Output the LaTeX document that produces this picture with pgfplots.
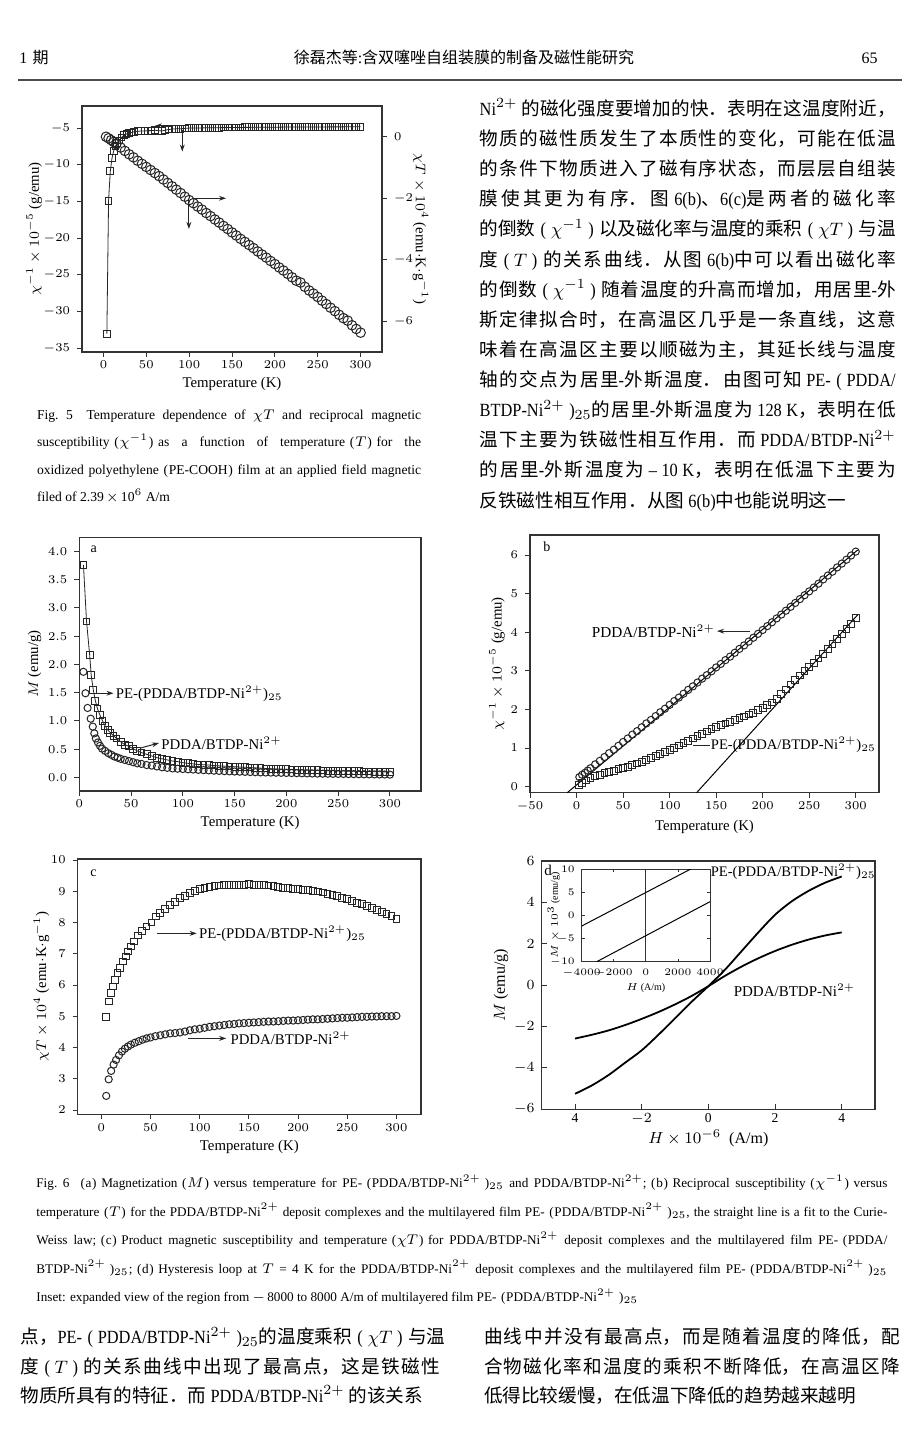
\documentclass[border=0pt]{standalone}
\usepackage{fontspec}
\setmainfont{Liberation Serif}
\newfontfamily\cjk{Noto Sans CJK SC}
\newfontfamily\brm[FakeStretch=0.88]{Liberation Serif}
\usepackage{pgfplots}
\pgfplotsset{compat=1.18}
\usetikzlibrary{arrows.meta}

\newcommand\R[1]{{\brm #1}}
\newcommand\lp{\kern0.35em(\kern0.05em}
\newcommand\rp{\kern0.05em)\kern0.35em}
\newcommand\rs{\kern0.3em)}
\newcommand\zl{{\brm\kern0.3em(\kern0.25em}}
\newcommand\zr{{\brm\kern0.25em)\kern0.3em}}
\newcommand\zrs{{\brm\kern0.25em)}}
\newcommand\zhpar{\XeTeXlinebreaklocale "zh"\XeTeXlinebreakskip=0pt plus 4pt minus 0.4pt
  \parfillskip=0pt\tolerance=10000\hbadness=10000\parindent=0pt}

\pgfplotsset{
  panel/.style={scale only axis, anchor=north west, clip=false,
    axis line style={black!80, line width=0.55pt},
    tick style={black!80, line width=0.45pt}, major tick length=2.5pt,
    tick align=outside, xtick pos=bottom, ytick pos=left,
    tick label style={font=\fontsize{6.3}{7}\selectfont},
    label style={font=\fontsize{7.4}{9}\selectfont},
    xticklabel shift=-1.5pt, xlabel shift=-2.5pt},
  sq/.style={mark=square, mark size=1.7pt, mark options={line width=0.5pt, draw=black!85, fill=none}},
  ci/.style={mark=o, mark size=1.8pt, mark options={line width=0.5pt, draw=black!85}},
}
\tikzset{
  arr/.style={black!85, line width=0.5pt, -{Stealth[length=3.5pt,width=2.4pt]}},
  ann/.style={font=\fontsize{7.4}{9}\selectfont, inner sep=0pt},
}

\begin{document}
\begin{tikzpicture}
\fill[white] (0,0) rectangle (460pt,-723.5pt);
\path[use as bounding box] (0,0) rectangle (460pt,-723.5pt);

% running head
\node[anchor=base west, inner sep=0] at (9.5pt,-31.5pt) {\fontsize{8}{9}\selectfont 1\,\,{\cjk 期}};
\node[anchor=base, inner sep=0] at (232pt,-31.5pt) {\fontsize{8}{9}\selectfont\cjk 徐磊杰等{\rmfamily:}含双噻唑自组装膜的制备及磁性能研究};
\node[anchor=base east, inner sep=0] at (439pt,-31.5pt) {\fontsize{8}{9}\selectfont 65};
\draw[line width=1pt, black!70] (9pt,-40pt) -- (451pt,-40pt);

% ---------------- Fig. 5 ----------------
\begin{axis}[panel, at={(41pt,-53pt)}, width=150pt, height=123pt,
  xmin=-25, xmax=325, ymin=-35.5, ymax=-2,
  xtick={0,50,...,300}, ytick={-35,-30,...,-5}, ylabel shift=-6pt,
  xlabel={Temperature (K)}, ylabel={$\chi^{-1}\times10^{-5}$ (g/emu)}]
\addplot[sq, black!85, line width=0.4pt] coordinates {
 (4,-33.0) (6,-14.9) (8,-10.9) (10,-9.1) (12,-8.1) (14,-7.5) (16,-7.0) (18,-6.7)
 (21,-6.3) (24,-6.0) (27,-5.8) (30,-5.7) (33,-5.6) (36,-5.5) (40,-5.45) (44,-5.4)
 (48,-5.4) (52,-5.35) (56,-5.35) (60,-5.3) (64,-5.35) (68,-5.4) (72,-5.3) (76,-5.2)
 (80,-5.15) (85,-5.1) (90,-5.1) (95,-5.05) (100,-5.0) (105,-5.0) (110,-5.0) (115,-4.98)
 (120,-4.97) (125,-4.96) (130,-4.95) (135,-4.95) (140,-4.94) (145,-4.93) (150,-4.93)
 (155,-4.92) (160,-4.92) (165,-4.91) (170,-4.91) (175,-4.90) (180,-4.90) (185,-4.89)
 (190,-4.89) (195,-4.88) (200,-4.88) (205,-4.88) (210,-4.87) (215,-4.87) (220,-4.87)
 (225,-4.86) (230,-4.86) (235,-4.86) (240,-4.86) (245,-4.85) (250,-4.85) (255,-4.85)
 (260,-4.85) (265,-4.84) (270,-4.84) (275,-4.84) (280,-4.84) (285,-4.83) (290,-4.83)
 (295,-4.83) (300,-4.83)};
\draw[arr] (axis cs:75,-4.7) -- (axis cs:60,-4.7);
\draw[arr] (axis cs:92,-5.3) -- (axis cs:92,-8.2);
\end{axis}
\begin{axis}[panel, at={(41pt,-53pt)}, width=150pt, height=123pt,
  xmin=-25, xmax=325, ymin=-7, ymax=1,
  axis x line=none, axis y line*=right, ytick pos=right, ytick={-6,-4,-2,0},
  ylabel shift=-7pt,
  ylabel={$\chi T\times10^{4}$ (emu$\cdot$K$\cdot$g$^{-1}$)}, ylabel style={rotate=180}]
\addplot[ci, only marks, mark size=2.4pt] coordinates {
 (3,0.00) (6,-0.05) (9,-0.11) (12,-0.17) (15,-0.24) (20,-0.35) (25,-0.46) (30,-0.57)
 (35,-0.67) (40,-0.78) (45,-0.88) (50,-0.98) (55,-1.08) (60,-1.18) (65,-1.28) (70,-1.39)
 (75,-1.50) (80,-1.61) (85,-1.72) (90,-1.83) (95,-1.95) (100,-2.06) (105,-2.16) (110,-2.27)
 (115,-2.37) (120,-2.48) (125,-2.58) (130,-2.69) (135,-2.79) (140,-2.90) (145,-3.00)
 (150,-3.11) (155,-3.21) (160,-3.32) (165,-3.42) (170,-3.52) (175,-3.62) (180,-3.73)
 (185,-3.83) (190,-3.93) (195,-4.04) (200,-4.14) (205,-4.25) (210,-4.35) (215,-4.46)
 (220,-4.57) (225,-4.68) (230,-4.74) (235,-4.88) (240,-5.00) (245,-5.10) (250,-5.21)
 (255,-5.33) (260,-5.44) (265,-5.56) (270,-5.67) (275,-5.79) (280,-5.90) (285,-5.98)
 (290,-6.13) (295,-6.25) (300,-6.37)};
\draw[arr] (axis cs:105,-2.0) -- (axis cs:143,-2.0);
\draw[arr] (axis cs:99.7,-2.05) -- (axis cs:99.7,-3.0);
\end{axis}

\node[anchor=base west, inner sep=0pt, text width=192pt, align=justify,
  font=\fontsize{6.8}{13.65}\selectfont] at (18.35pt,-209.75pt)
 {\parindent=0pt\tolerance=10000
  Fig.\ 5\quad Temperature dependence of $\chi T$ and reciprocal magnetic\linebreak
  susceptibility\lp$\chi^{-1}$\rp as a function of temperature\lp$T$\rp for the\linebreak
  oxidized polyethylene\lp PE-COOH\rp film at an applied field magnetic\linebreak
  filed of 2.39\,$\times$\,10$^{6}$ A/m};

% right column text
\node[anchor=base west, inner sep=0pt, text width=208pt, align=justify,
  font=\cjk\fontsize{9.3}{15.07}\selectfont] at (239.65pt,-57.65pt)
 {\zhpar
 \R{Ni$^{2+}$} 的磁化强度要增加的快．表明在这温度附近，\linebreak
 物质的磁性质发生了本质性的变化，可能在低温\linebreak
 的条件下物质进入了磁有序状态，而层层自组装\linebreak
 膜使其更为有序．图 \R{6(b)}、\R{6(c)}是两者的磁化率\linebreak
 的倒数\zl$\chi^{-1}$\zr 以及磁化率与温度的乘积\zl$\chi T$\zr 与温\linebreak
 度\zl$T$\zr 的关系曲线．从图 \R{6(b)}中可以看出磁化率\linebreak
 的倒数\zl$\chi^{-1}$\zr 随着温度的升高而增加，用居里\R{-}外\linebreak
 斯定律拟合时，在高温区几乎是一条直线，这意\linebreak
 味着在高温区主要以顺磁为主，其延长线与温度\linebreak
 轴的交点为居里\R{-}外斯温度．由图可知 \R{PE-}\zl\R{PDDA/}\linebreak
 \R{BTDP-Ni$^{2+}$}\zrs$_{25}$的居里\R{-}外斯温度为 \R{128 K}，表明在低\linebreak
 温下主要为铁磁性相互作用．而 \R{PDDA/BTDP-Ni$^{2+}$}\linebreak
 的居里\R{-}外斯温度为 \R{– 10 K}，表明在低温下主要为\linebreak
 反铁磁性相互作用．从图 \R{6(b)}中也能说明这一};

% ---------------- Fig. 6a ----------------
\begin{axis}[panel, at={(39.65pt,-268.65pt)}, width=170.85pt, height=126.85pt,
  xmin=0, xmax=330, ymin=-0.24, ymax=4.25,
  xtick={0,50,...,300}, ytick={0,0.5,...,4}, ylabel shift=-3.5pt,
  yticklabel style={/pgf/number format/.cd, fixed, fixed zerofill, precision=1},
  xlabel={Temperature (K)}, ylabel={$M$ (emu/g)}]
\addplot[sq, black!85, line width=0.4pt] coordinates {
 (4,3.76) (7,2.76) (10,2.17) (11.5,1.81) (13.5,1.55) (15.5,1.36) (17.5,1.22) (20,1.10)
 (22.5,1.00) (25,0.91) (27.5,0.84) (30,0.79) (33,0.74) (36,0.69) (40,0.63) (44,0.58)
 (48,0.55) (52,0.51) (56,0.47) (60,0.44) (65,0.41) (70,0.38) (75,0.35) (80,0.33)
 (85,0.31) (90,0.29) (95,0.28) (100,0.26) (105,0.25) (110,0.24) (115,0.23) (120,0.225)
 (125,0.22) (130,0.21) (135,0.205) (140,0.20) (145,0.195) (150,0.19) (155,0.185)
 (160,0.18) (165,0.175) (170,0.17) (175,0.165) (180,0.16) (185,0.155) (190,0.15)
 (195,0.147) (200,0.144) (205,0.141) (210,0.138) (215,0.135) (220,0.132) (225,0.129)
 (230,0.126) (235,0.123) (240,0.12) (245,0.118) (250,0.116) (255,0.114) (260,0.112)
 (265,0.11) (270,0.108) (275,0.106) (280,0.104) (285,0.102) (290,0.10) (295,0.098)
 (300,0.096)};
\addplot[ci, only marks] coordinates {
 (4,1.87) (6,1.49) (8,1.23) (11,1.04) (13,0.90) (14.5,0.78) (16,0.69) (18,0.62)
 (20,0.56) (22,0.51) (25,0.47) (28,0.43) (31,0.40) (34,0.37) (37,0.35) (40,0.33)
 (44,0.31) (48,0.29) (52,0.27) (56,0.25) (60,0.24) (65,0.22) (70,0.21) (75,0.195)
 (80,0.18) (85,0.17) (90,0.16) (95,0.155) (100,0.15) (105,0.145) (110,0.14) (115,0.135)
 (120,0.13) (125,0.125) (130,0.12) (135,0.116) (140,0.112) (145,0.108) (150,0.105)
 (155,0.102) (160,0.099) (165,0.096) (170,0.093) (175,0.09) (180,0.088) (185,0.086)
 (190,0.084) (195,0.082) (200,0.08) (205,0.078) (210,0.076) (215,0.074) (220,0.072)
 (225,0.07) (230,0.068) (235,0.067) (240,0.066) (245,0.064) (250,0.063) (255,0.062)
 (260,0.06) (265,0.059) (270,0.058) (275,0.056) (280,0.055) (285,0.054) (290,0.053)
 (295,0.052) (300,0.05)};
\node[ann, font=\fontsize{7}{8}\selectfont] at (axis cs:14,4.03) {a};
\draw[arr] (axis cs:12.9,1.49) -- (axis cs:33,1.49);
\node[ann, anchor=west] at (axis cs:35,1.49) {PE-(PDDA/BTDP-Ni$^{2+}$)$_{25}$};
\draw[arr] (axis cs:59,0.52) -- (axis cs:77,0.61);
\node[ann, anchor=west] at (axis cs:79,0.61) {PDDA/BTDP-Ni$^{2+}$};
\end{axis}

% ---------------- Fig. 6b ----------------
\begin{axis}[panel, at={(265pt,-267.5pt)}, width=174.5pt, height=128.85pt,
  xmin=-50, xmax=325, ymin=-0.155, ymax=6.52,
  xtick={-50,0,50,...,300}, ytick={0,1,...,6}, ylabel shift=-4pt,
  xlabel={Temperature (K)}, ylabel={$\chi^{-1}\times10^{-5}$ (g/emu)}]
\addplot[ci, only marks] coordinates {
 (3,0.25) (6,0.31) (9,0.36) (12,0.42) (15,0.48) (20,0.58) (25,0.67) (30,0.77) (35,0.87)
 (40,0.96) (45,1.06) (50,1.16) (55,1.25) (60,1.35) (65,1.44) (70,1.54) (75,1.64) (80,1.73)
 (85,1.83) (90,1.93) (95,2.02) (100,2.12) (105,2.22) (110,2.31) (115,2.41) (120,2.51)
 (125,2.60) (130,2.70) (135,2.80) (140,2.89) (145,2.99) (150,3.09) (155,3.18) (160,3.28)
 (165,3.37) (170,3.47) (175,3.57) (180,3.66) (185,3.76) (190,3.86) (195,3.96) (200,4.06)
 (205,4.16) (210,4.26) (215,4.36) (220,4.46) (225,4.56) (230,4.66) (235,4.76) (240,4.86)
 (245,4.96) (250,5.06) (255,5.16) (260,5.26) (265,5.37) (270,5.47) (275,5.57) (280,5.68)
 (285,5.78) (290,5.88) (295,5.99) (300,6.09)};
\addplot[sq, only marks] coordinates {
 (3,0.05) (6,0.10) (10,0.16) (15,0.22) (20,0.27) (25,0.31) (30,0.35) (35,0.38) (40,0.41)
 (45,0.45) (50,0.48) (55,0.52) (60,0.56) (65,0.60) (70,0.65) (75,0.70) (80,0.75) (85,0.80)
 (90,0.85) (95,0.90) (100,0.95) (105,1.01) (110,1.07) (115,1.13) (120,1.19) (125,1.25)
 (130,1.31) (135,1.37) (140,1.43) (145,1.49) (150,1.55) (155,1.59) (160,1.64) (165,1.68)
 (170,1.73) (175,1.77) (180,1.82) (185,1.87) (190,1.92) (195,1.98) (200,2.04) (205,2.11)
 (210,2.18) (215,2.28) (220,2.40) (225,2.52) (230,2.65) (235,2.76) (240,2.88) (245,2.99)
 (250,3.10) (255,3.21) (260,3.32) (265,3.44) (270,3.56) (275,3.69) (280,3.82) (285,3.95)
 (290,4.08) (295,4.22) (300,4.37)};
\addplot[black, line width=0.5pt] coordinates {(-10,-0.155) (302,6.13)};
\addplot[black, line width=0.5pt] coordinates {(129,-0.155) (302,4.45)};
\node[ann, font=\fontsize{7}{8}\selectfont] at (axis cs:-32,6.22) {b};
\draw[arr] (axis cs:186,4.03) -- (axis cs:151,4.03);
\node[ann, anchor=east, font=\fontsize{7.6}{9}\selectfont] at (axis cs:149,4.03) {PDDA/BTDP-Ni$^{2+}$};
\draw[black!85, line width=0.5pt] (axis cs:125,1.08) -- (axis cs:143,1.08);
\node[ann, anchor=west, font=\fontsize{7.3}{9}\selectfont] at (axis cs:144,1.08) {PE-(PDDA/BTDP-Ni$^{2+}$)$_{25}$};
\end{axis}

% ---------------- Fig. 6c ----------------
\begin{axis}[panel, at={(38.85pt,-429.5pt)}, width=171.65pt, height=127.65pt,
  xmin=-24, xmax=325, ymin=1.86, ymax=10.03,
  xtick={0,50,...,300}, ytick={2,3,...,10}, ylabel shift=-6pt,
  xlabel={Temperature (K)}, ylabel={$\chi T\times10^{4}$ (emu$\cdot$K$\cdot$g$^{-1}$)}]
\addplot[sq, only marks] coordinates {
 (5,4.98) (7.5,5.47) (10,5.73) (12,5.95) (14,6.16) (16.5,6.37) (19,6.55) (22,6.75)
 (25,6.91) (27.5,7.07) (30,7.23) (33.5,7.39) (37.5,7.58) (41.5,7.73) (46,7.87) (51,8.00)
 (56,8.19) (60,8.30) (64.5,8.42) (70,8.55) (75,8.66) (80,8.77) (85,8.85) (90,8.93)
 (95,9.01) (100,9.06) (105,9.10) (110,9.13) (115,9.16) (120,9.18) (125,9.19) (130,9.20)
 (135,9.21) (140,9.21) (145,9.21) (150,9.22) (155,9.21) (160,9.20) (165,9.19) (170,9.18)
 (175,9.16) (180,9.14) (185,9.11) (190,9.09) (195,9.07) (200,9.06) (205,9.05) (210,9.03)
 (215,9.01) (220,8.99) (225,8.96) (230,8.92) (235,8.88) (240,8.84) (245,8.79) (250,8.74)
 (255,8.69) (260,8.63) (265,8.58) (270,8.52) (275,8.46) (280,8.40) (285,8.34) (290,8.27)
 (295,8.20) (300,8.11)};
\addplot[ci, only marks] coordinates {
 (5,2.45) (7.5,2.98) (10,3.25) (12.5,3.45) (15,3.60) (18,3.75) (21,3.87) (24,3.96)
 (27,4.03) (30,4.09) (34,4.15) (38,4.20) (42,4.25) (46,4.29) (50,4.32) (55,4.36)
 (60,4.39) (65,4.42) (70,4.45) (75,4.46) (80,4.48) (85,4.51) (90,4.55) (95,4.58)
 (100,4.60) (105,4.63) (110,4.66) (115,4.68) (120,4.70) (125,4.72) (130,4.74) (135,4.75)
 (140,4.77) (145,4.78) (150,4.79) (155,4.80) (160,4.81) (165,4.82) (170,4.83) (175,4.83)
 (180,4.84) (185,4.85) (190,4.86) (195,4.86) (200,4.87) (205,4.88) (210,4.89) (215,4.90)
 (220,4.90) (225,4.91) (230,4.92) (235,4.93) (240,4.94) (245,4.95) (250,4.95) (255,4.96)
 (260,4.97) (265,4.98) (270,4.98) (275,4.99) (280,4.99) (285,5.00) (290,5.00) (295,5.00)
 (300,5.01)};
\node[ann, font=\fontsize{7}{8}\selectfont] at (axis cs:-8,9.57) {c};
\draw[arr] (axis cs:56.5,7.65) -- (axis cs:97,7.65);
\node[ann, anchor=west] at (axis cs:99,7.65) {PE-(PDDA/BTDP-Ni$^{2+}$)$_{25}$};
\draw[arr] (axis cs:88.6,4.29) -- (axis cs:127,4.29);
\node[ann, anchor=west] at (axis cs:131,4.29) {PDDA/BTDP-Ni$^{2+}$};
\end{axis}

% ---------------- Fig. 6d ----------------
\begin{axis}[panel, at={(270.85pt,-430.5pt)}, width=166.65pt, height=124.15pt,
  xmin=-5, xmax=5, ymin=-6, ymax=6, tick align=inside,
  xtick={-4,-2,0,2,4}, xticklabels={4,$-2$,0,2,4}, ytick={-6,-4,...,6},
  tick label style={font=\fontsize{6.8}{8}\selectfont},
  label style={font=\fontsize{8}{9}\selectfont}, ylabel shift=-4pt, xlabel shift=-4pt,
  xlabel={$H\times10^{-6}$\enspace(A/m)}, ylabel={$M$ (emu/g)}]
\addplot[black, line width=0.9pt, smooth] coordinates {
 (-4,-5.25) (-3.5,-4.85) (-3,-4.35) (-2.5,-3.75) (-2,-3.15) (-1.5,-2.40) (-1,-1.60)
 (-0.5,-0.80) (0,-0.05) (0.5,0.75) (1,1.65) (1.5,2.55) (2,3.40) (2.5,4.05) (3,4.55)
 (3.5,4.95) (4,5.25)};
\addplot[black, line width=0.9pt, smooth] coordinates {
 (-4,-2.58) (-3.5,-2.40) (-3,-2.19) (-2.5,-1.93) (-2,-1.63) (-1.5,-1.30) (-1,-0.93)
 (-0.5,-0.52) (0,-0.05) (0.5,0.45) (1,0.90) (1.5,1.30) (2,1.65) (2.5,1.95) (3,2.20)
 (3.5,2.40) (4,2.55)};
\node[ann, font=\fontsize{7.5}{8}\selectfont] at (axis cs:-4.81,5.57) {d};
\node[ann, anchor=west, font=\fontsize{7.3}{9}\selectfont] at (axis cs:0.06,5.48) {PE-(PDDA/BTDP-Ni$^{2+}$)$_{25}$};
\node[ann, anchor=west, font=\fontsize{7.5}{9}\selectfont] at (axis cs:0.75,-0.23) {PDDA/BTDP-Ni$^{2+}$};
\end{axis}
\begin{axis}[scale only axis, anchor=north west, at={(290.85pt,-434.5pt)},
  width=64.15pt, height=46.35pt, xmin=-4000, xmax=4000, ymin=-10, ymax=10,
  axis background/.style={fill=white},
  axis line style={black!80, line width=0.5pt}, tick style={black!80, line width=0.4pt},
  tick align=inside, major tick length=1.5pt,
  xtick={-4000,-2000,0,2000,4000}, ytick={-10,-5,0,5,10},
  tick label style={font=\fontsize{4.6}{5}\selectfont},
  xticklabel style={/pgf/number format/1000 sep={}},
  label style={font=\fontsize{5}{6}\selectfont},
  xlabel={$H$ (A/m)}, ylabel={$M\times10^{3}$ (emu/g)},
  xlabel style={yshift=3.5pt},
  every axis y label/.style={at={(rel axis cs:0,0.5)}, xshift=-14pt, rotate=90,
    anchor=center, font=\fontsize{5}{6}\selectfont}]
\addplot[black!80, line width=0.4pt] coordinates {(0,-10) (0,10)};
\addplot[black, line width=0.5pt] coordinates {(-4000,-2.3) (2800,10)};
\addplot[black, line width=0.5pt] coordinates {(-3065,-10) (4000,2.95)};
\end{axis}

% Fig. 6 caption
\node[anchor=base west, inner sep=0pt, text width=425.5pt, align=justify,
  font=\fontsize{6.6}{14.25}\selectfont] at (18pt,-593.75pt)
 {\parindent=0pt\tolerance=10000
 Fig.\ 6\enspace\lp a\rp Magnetization\lp$M$\rp versus temperature for PE-\lp PDDA/BTDP-Ni$^{2+}$\rs$_{25}$ and PDDA/BTDP-Ni$^{2+}$;\lp b\rp Reciprocal susceptibility\lp$\chi^{-1}$\rp versus\linebreak
 temperature\lp$T$\rp for the PDDA/BTDP-Ni$^{2+}$ deposit complexes and the multilayered film PE-\lp PDDA/BTDP-Ni$^{2+}$\rs$_{25}$, the straight line is a fit to the Curie-\linebreak
 Weiss law;\lp c\rp Product magnetic susceptibility and temperature\lp$\chi T$\rp for PDDA/BTDP-Ni$^{2+}$ deposit complexes and the multilayered film PE-\lp PDDA/\linebreak
 BTDP-Ni$^{2+}$\rs$_{25}$;\lp d\rp Hysteresis loop at $T$ = 4 K for the PDDA/BTDP-Ni$^{2+}$ deposit complexes and the multilayered film PE-\lp PDDA/BTDP-Ni$^{2+}$\rs$_{25}$\linebreak
 Inset: expanded view of the region from $-$\,8000 to 8000 A/m of multilayered film PE-\lp PDDA/BTDP-Ni$^{2+}$\rs$_{25}$};

% bottom text
\node[anchor=base west, inner sep=0pt, text width=210pt, align=justify,
  font=\cjk\fontsize{9.3}{14.65}\selectfont] at (10pt,-671.85pt)
 {\zhpar
 \hbox to\linewidth{点，\R{PE-}\zl\R{PDDA/BTDP-Ni$^{2+}$}\zrs$_{25}$的温度乘积\zl$\chi T$\zr 与温}\par
 度\zl$T$\zr 的关系曲线中出现了最高点，这是铁磁性\linebreak
 物质所具有的特征．而 \R{PDDA/BTDP-Ni$^{2+}$} 的该关系};
\node[anchor=base west, inner sep=0pt, text width=208pt, align=justify,
  font=\cjk\fontsize{9.3}{14.65}\selectfont] at (241.8pt,-671.85pt)
 {\zhpar
 曲线中并没有最高点，而是随着温度的降低，配\linebreak
 合物磁化率和温度的乘积不断降低，在高温区降\linebreak
 低得比较缓慢，在低温下降低的趋势越来越明};
\end{tikzpicture}
\end{document}
